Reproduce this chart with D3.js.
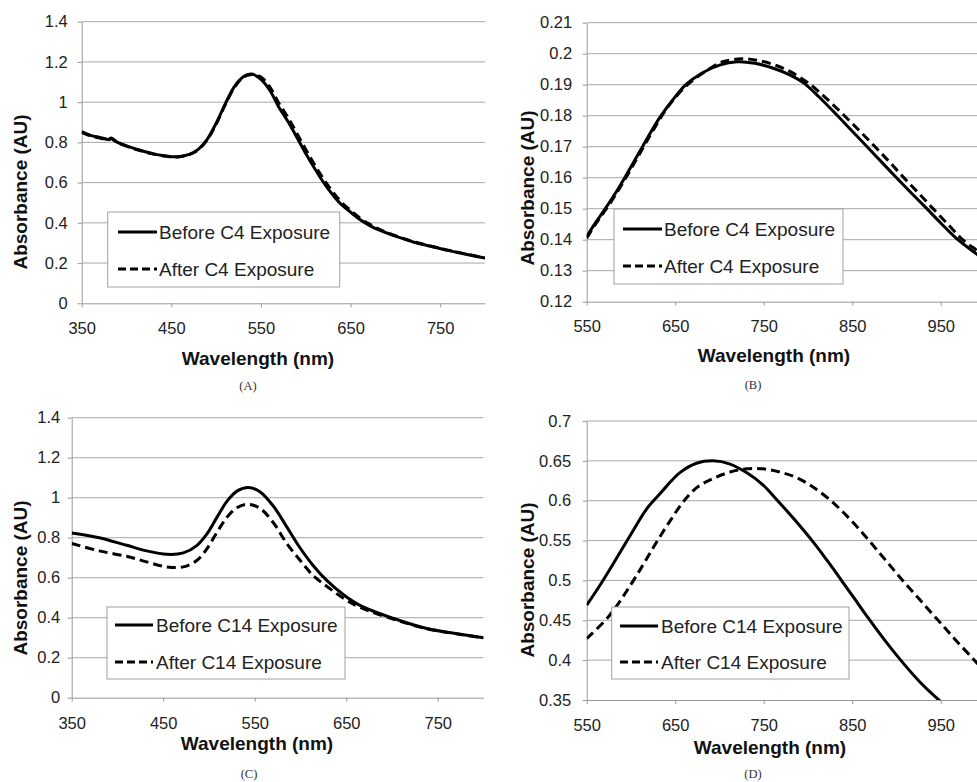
<!DOCTYPE html>
<html><head><meta charset="utf-8">
<script src="https://cdn.jsdelivr.net/npm/d3@7"></script>
<style>
html,body{margin:0;padding:0;background:#fff;}
svg{display:block;font-family:"Liberation Sans",Arial,sans-serif;}
</style></head><body>
<svg id="chart" width="977" height="782"></svg>
<script>
// ---------- DATA ----------
// Panel A (C4, 350-800 nm)
const wlA     = [350,360,370,380,383,390,400,410,420,430,440,450,460,470,480,490,500,510,520,530,540,550,560,570,580,590,600,610,620,630,640,650,660,670,680,700,720,740,760,780,800];
const beforeA = [0.853,0.835,0.825,0.815,0.822,0.800,0.783,0.768,0.755,0.743,0.735,0.729,0.730,0.740,0.765,0.815,0.895,0.990,1.075,1.125,1.140,1.113,1.058,0.975,0.905,0.826,0.745,0.670,0.600,0.540,0.490,0.453,0.418,0.390,0.367,0.334,0.305,0.283,0.262,0.243,0.225];
const afterA  = [0.850,0.832,0.822,0.813,0.818,0.798,0.781,0.766,0.753,0.742,0.734,0.728,0.729,0.739,0.763,0.812,0.890,0.985,1.070,1.123,1.138,1.125,1.075,0.995,0.925,0.846,0.765,0.688,0.617,0.555,0.502,0.462,0.425,0.396,0.372,0.336,0.307,0.284,0.263,0.244,0.226];
// Panel B (C4, 550-1000 nm)
const wlB1    = [550,560,571,582,593,603,613,623,634,647,662,680,700,720,740,760,780,795,812,831,849,866,883,900,917,934,950,967,990,1000];
const beforeB = [0.1410,0.1455,0.1500,0.1548,0.1600,0.1650,0.1700,0.1750,0.1800,0.1850,0.1900,0.1937,0.1963,0.1974,0.1969,0.1954,0.1931,0.1906,0.1862,0.1807,0.1753,0.1702,0.1651,0.1600,0.1550,0.1501,0.1454,0.1406,0.1355,0.1333];
const wlB2    = [550,560,571,582,593,603,613,623,634,640,647,662,680,700,710,725,740,760,780,802,821,840,858,875,892,908,925,941,958,974,991,1000];
const afterB  = [0.1405,0.1450,0.1495,0.1542,0.1594,0.1643,0.1693,0.1743,0.1795,0.1822,0.1848,0.1895,0.1935,0.1970,0.1978,0.1984,0.1980,0.1966,0.1942,0.1902,0.1855,0.1803,0.1752,0.1702,0.1651,0.1601,0.1550,0.1501,0.1450,0.1402,0.1365,0.1345];
// Panel C (C14, 350-800 nm)
const wlC     = [350,380,410,432,454,472,487,498,509,520,531,543,556,571,585,600,614,629,647,665,702,738,775,800];
const beforeC = [0.824,0.800,0.762,0.734,0.717,0.724,0.762,0.820,0.904,0.984,1.034,1.051,1.029,0.954,0.854,0.746,0.660,0.585,0.515,0.462,0.396,0.346,0.317,0.300];
const afterC  = [0.771,0.734,0.707,0.679,0.654,0.654,0.687,0.746,0.829,0.904,0.951,0.967,0.946,0.871,0.771,0.685,0.610,0.556,0.497,0.452,0.392,0.345,0.316,0.300];
// Panel D (C14, 550-1000 nm)
const wlD1    = [550,565,580,600,618,633,640,655,674,693,712,731,749,765,785,806,821,836,852,868,886,904,927,951,975,1000];
const beforeD = [0.469,0.494,0.521,0.558,0.590,0.609,0.618,0.635,0.647,0.650,0.646,0.635,0.620,0.601,0.576,0.548,0.526,0.503,0.478,0.453,0.426,0.401,0.372,0.347,0.325,0.304];
const wlD2    = [550,575,600,615,630,645,660,675,693,712,731,749,768,787,806,829,849,869,888,907,927,947,967,988,1000];
const afterD  = [0.427,0.455,0.495,0.522,0.550,0.576,0.600,0.617,0.628,0.636,0.640,0.640,0.636,0.629,0.617,0.597,0.575,0.550,0.525,0.500,0.475,0.450,0.425,0.400,0.385];

const xTicksShort = [350,450,550,650,750];
const xTicksLong  = [550,650,750,850,950];
const yTicksAC = [0,0.2,0.4,0.6,0.8,1,1.2,1.4];
const yTicksB  = [0.12,0.13,0.14,0.15,0.16,0.17,0.18,0.19,0.2,0.21];
const yTicksD  = [0.35,0.4,0.45,0.5,0.55,0.6,0.65,0.7];
const legendC4  = ["Before C4 Exposure","After C4 Exposure"];
const legendC14 = ["Before C14 Exposure","After C14 Exposure"];
const captions  = ["(A)","(B)","(C)","(D)"];
const xTitle = "Wavelength (nm)";
const yTitle = "Absorbance (AU)";

// ---------- LAYOUT ----------
const panels = [
 {w1:wlA,s1:beforeA,w2:wlA,s2:afterA,xDom:[350,800],yDom:[0,1.4],xT:xTicksShort,yT:yTicksAC,leg:legendC4,cap:captions[0],
  L:81.7,R:485,T:21.7,B:303.3,xPad:15,yPad:10,xt:[258,358],yt:[20,192],cp:[248,385],
  lg:{x:107.7,y:212,w:232,h:75,l1:118,l2:157,tx:159,r1:232,r2:269}},
 {w1:wlB1,s1:beforeB,w2:wlB2,s2:afterB,xDom:[550,1000],yDom:[0.12,0.21],xT:xTicksLong,yT:yTicksB,leg:legendC4,cap:captions[1],
  L:586.7,R:985,T:22.7,B:301.7,xPad:14.5,yPad:10.5,xt:[774,355],yt:[527,188],cp:[753,384],
  lg:{x:614,y:209,w:229,h:75,l1:623,l2:662,tx:664,r1:229,r2:266}},
 {w1:wlC,s1:beforeC,w2:wlC,s2:afterC,xDom:[350,800],yDom:[0,1.4],xT:xTicksShort,yT:yTicksAC,leg:legendC14,cap:captions[2],
  L:71.7,R:483.5,T:417.7,B:697.7,xPad:15.5,yPad:7.5,xt:[257,743],yt:[20,578],cp:[249,773],
  lg:{x:107,y:607,w:238,h:72,l1:115,l2:153,tx:156,r1:625,r2:662}},
 {w1:wlD1,s1:beforeD,w2:wlD2,s2:afterD,xDom:[550,1000],yDom:[0.35,0.7],xT:xTicksLong,yT:yTicksD,leg:legendC14,cap:captions[3],
  L:586.7,R:985,T:421,B:700,xPad:15,yPad:11.5,xt:[770,747],yt:[527,580],cp:[753,773],
  lg:{x:611.7,y:607,w:237.3,h:72,l1:620,l2:658,tx:661,r1:626,r2:662}}
];

const svg = d3.select("#chart");
const gridColor = "#a8a8a8";
const fmt = d => String(+d.toFixed(3));

panels.forEach((p,i) => {
  const x = d3.scaleLinear().domain(p.xDom).range([p.L,p.R]);
  const y = d3.scaleLinear().domain(p.yDom).range([p.B,p.T]);
  const g = svg.append("g");

  // gridlines
  g.append("g").selectAll("line").data(p.yT.slice(1)).join("line")
    .attr("x1",p.L).attr("x2",p.R).attr("y1",d=>y(d)).attr("y2",d=>y(d))
    .attr("stroke",gridColor).attr("stroke-width",1);

  // axes
  const ya = g.append("g").attr("transform",`translate(${p.L},0)`)
    .call(d3.axisLeft(y).tickValues(p.yT).tickSize(4).tickSizeOuter(0).tickPadding(p.yPad).tickFormat(fmt));
  const xa = g.append("g").attr("transform",`translate(0,${p.B})`)
    .call(d3.axisBottom(x).tickValues(p.xT).tickSize(4).tickSizeOuter(0).tickPadding(p.xPad).tickFormat(fmt));
  [ya,xa].forEach(a => {
    a.selectAll("path,line").attr("stroke","#999");
    a.selectAll("text").attr("fill","#222").style("font-size","16.5px").style("font-family","'Liberation Sans',Arial,sans-serif");
  });

  // clip
  const cid = "clip"+i;
  svg.append("clipPath").attr("id",cid).append("rect")
    .attr("x",p.L).attr("y",p.T-3).attr("width",p.R-p.L).attr("height",p.B-p.T+3);

  const mk = w => d3.line().x((d,j)=>x(w[j])).y(d=>y(d)).curve(d3.curveCatmullRom.alpha(0.5));
  const cg = g.append("g").attr("clip-path",`url(#${cid})`);
  cg.append("path").attr("d",mk(p.w2)(p.s2)).attr("fill","none").attr("stroke","#000")
    .attr("stroke-width",3).attr("stroke-dasharray","9,5");
  cg.append("path").attr("d",mk(p.w1)(p.s1)).attr("fill","none").attr("stroke","#000")
    .attr("stroke-width",3);

  // legend
  const lg = p.lg;
  g.append("rect").attr("x",lg.x).attr("y",lg.y).attr("width",lg.w).attr("height",lg.h)
    .attr("fill","#fff").attr("stroke","#a0a0a0").attr("stroke-width",1);
  g.append("line").attr("x1",lg.l1).attr("x2",lg.l2).attr("y1",lg.r1).attr("y2",lg.r1)
    .attr("stroke","#000").attr("stroke-width",3);
  g.append("line").attr("x1",lg.l1).attr("x2",lg.l2).attr("y1",lg.r2).attr("y2",lg.r2)
    .attr("stroke","#000").attr("stroke-width",3).attr("stroke-dasharray","8,4");
  [lg.r1,lg.r2].forEach((ry,k) => {
    g.append("text").attr("x",lg.tx).attr("y",ry).attr("dy","0.36em")
      .attr("fill","#222").style("font-size","19px").text(p.leg[k]);
  });

  // titles
  g.append("text").attr("x",p.xt[0]).attr("y",p.xt[1]).attr("dy","0.36em")
    .attr("text-anchor","middle").attr("fill","#111").style("font-size","19px").style("font-weight","bold").text(xTitle);
  g.append("text").attr("transform",`translate(${p.yt[0]},${p.yt[1]}) rotate(-90)`).attr("dy","0.36em")
    .attr("text-anchor","middle").attr("fill","#111").style("font-size","19px").style("font-weight","bold").text(yTitle);
  g.append("text").attr("x",p.cp[0]).attr("y",p.cp[1]).attr("dy","0.36em")
    .attr("text-anchor","middle").attr("fill","#333").style("font-size","12.5px")
    .style("font-family","'Liberation Serif','DejaVu Serif',serif").text(p.cap);
});
</script>
</body></html>
